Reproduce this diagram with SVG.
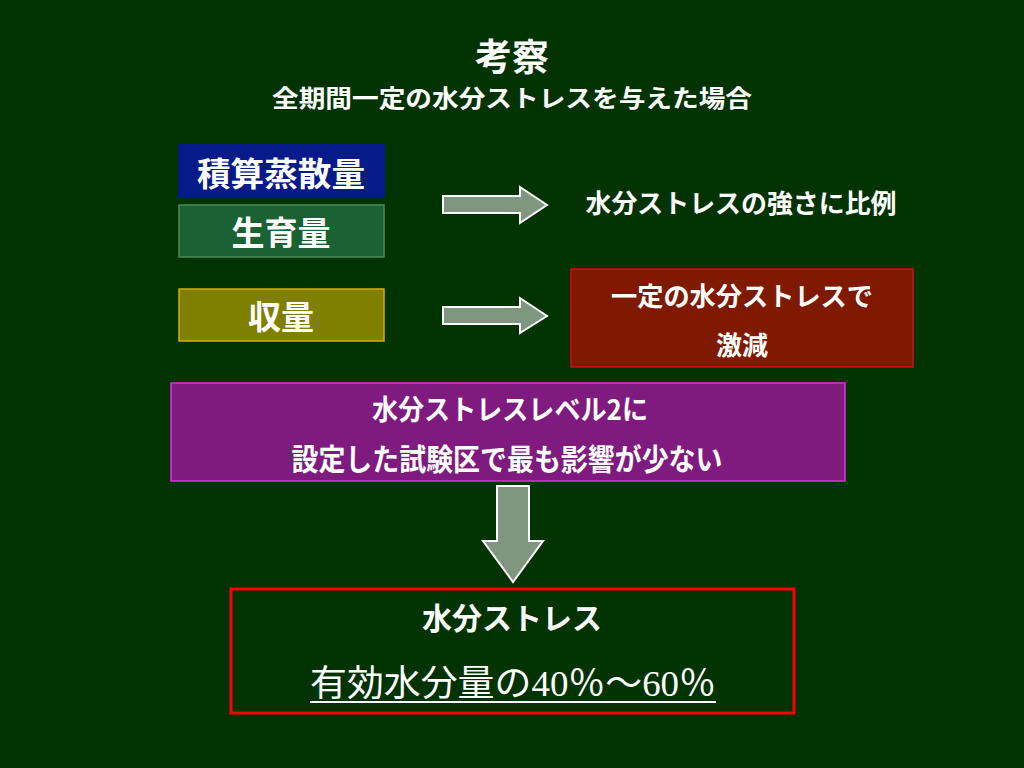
<svg xmlns="http://www.w3.org/2000/svg" width="1024" height="768" viewBox="0 0 1024 768">
<defs>
<style>
text{font-family:"Noto Sans CJK JP","Liberation Sans",sans-serif;fill:#ffffff;text-anchor:middle}
.b{font-weight:bold}
.arrow{fill:#7f977f;stroke:#ffffff;stroke-width:2}
</style>
</defs>
<rect width="1024" height="768" fill="#013301"/>
<g id="title">
<text x="512" y="71" class="b" font-size="37">考察</text>
<text x="512" y="107" class="b" font-size="24" textLength="480" lengthAdjust="spacingAndGlyphs">全期間一定の水分ストレスを与えた場合</text>
</g>
<g id="node-sekisan">
<rect x="178" y="144" width="207" height="53" fill="#061a8a"/>
<text x="281" y="186" class="b" font-size="33" textLength="168" lengthAdjust="spacingAndGlyphs">積算蒸散量</text>
</g>
<g id="node-seiiku">
<rect x="179" y="205" width="205" height="52" fill="#1a6233" stroke="#4a8a5a" stroke-width="1.5"/>
<text x="281" y="245" class="b" font-size="33">生育量</text>
</g>
<g id="node-shuryo">
<rect x="179" y="289" width="205" height="52" fill="#7f7f00" stroke="#d4b000" stroke-width="1.5"/>
<text x="281" y="329" class="b" font-size="33">収量</text>
</g>
<g id="node-hirei">
<text x="741" y="213" class="b" font-size="26" textLength="311" lengthAdjust="spacingAndGlyphs">水分ストレスの強さに比例</text>
</g>
<g id="node-gekigen">
<rect x="571" y="269" width="342" height="98" fill="#7f1a00" stroke="#d01010" stroke-width="1.5"/>
<text x="742" y="306" class="b" font-size="26" textLength="262" lengthAdjust="spacingAndGlyphs">一定の水分ストレスで</text>
<text x="742" y="355" class="b" font-size="26">激減</text>
</g>
<g id="node-level2">
<rect x="171" y="383" width="674" height="98" fill="#7f1a7f" stroke="#e030e0" stroke-width="1.5"/>
<text x="510" y="420" class="b" font-size="28" textLength="276" lengthAdjust="spacingAndGlyphs">水分ストレスレベル2に</text>
<text x="507" y="470" class="b" font-size="30" textLength="431" lengthAdjust="spacingAndGlyphs">設定した試験区で最も影響が少ない</text>
</g>
<g id="node-result">
<rect x="231" y="589" width="563" height="124" fill="none" stroke="#ff0000" stroke-width="3"/>
<text x="512" y="629" class="b" font-size="30">水分ストレス</text>
<text x="513" y="696" font-size="36" textLength="406" lengthAdjust="spacingAndGlyphs">有効水分量の<tspan font-family="Liberation Serif">40</tspan>％～<tspan font-family="Liberation Serif">60</tspan>％</text>
<line x1="310" y1="702" x2="716" y2="702" stroke="#ffffff" stroke-width="2"/>
</g>
<g id="connectors">
<polygon class="arrow" points="443,196 520,196 520,187 547,205 520,223 520,213 443,213"/>
<polygon class="arrow" points="443,307 520,307 520,298 547,316 520,333 520,324 443,324"/>
<polygon class="arrow" points="497,486 529,486 529,541 543,541 513,582 483,541 497,541"/>
</g>
</svg>
